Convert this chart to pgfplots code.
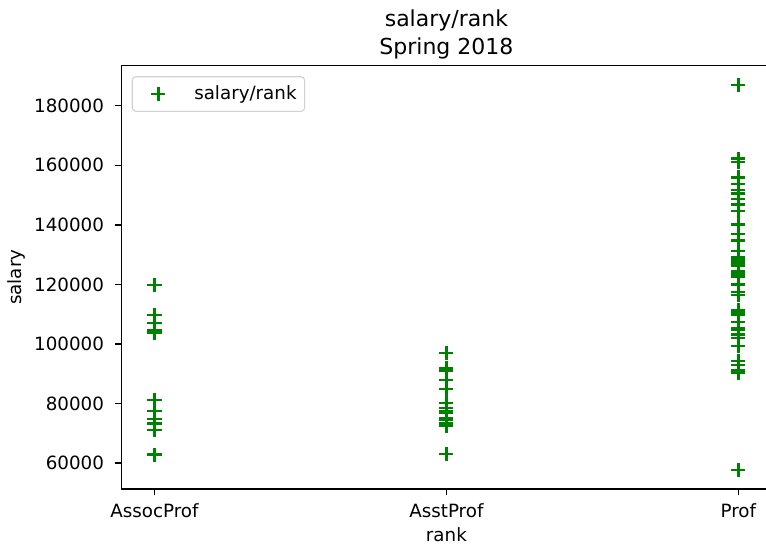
\documentclass[border=0pt]{standalone}
\usepackage{fontspec}
\setmainfont{DejaVu Sans}
\usepackage{pgfplots}
\usepackage{pgfplotstable}
\pgfplotsset{compat=1.18}
\definecolor{mplgreen}{HTML}{008000}
\pgfplotstableread{
x y
0 81285
0 107008
0 119800
0 74830
0 103613
0 62884
0 77500
0 103994
0 103750
0 109650
0 73300
0 71065
0 104542
1 88000
1 75044
1 92000
1 92000
1 73000
1 85000
1 91300
1 91000
1 80225
1 77000
1 74692
1 97032
1 73500
1 72500
1 72500
1 92000
1 63100
1 77500
1 78500
2 186960
2 93000
2 110515
2 131205
2 104800
2 122400
2 126300
2 94350
2 57800
2 128250
2 134778
2 162200
2 153750
2 150480
2 107300
2 150500
2 103106
2 91100
2 99418
2 148750
2 155865
2 123683
2 155750
2 103275
2 120000
2 126933
2 146856
2 102000
2 129000
2 137000
2 151768
2 140096
2 111512
2 122960
2 127512
2 105000
2 144651
2 91000
2 117555
2 90450
2 116450
2 161101
2 105450
2 124312
2 109954
2 109646
}\salaries
\begin{document}
\begin{tikzpicture}[font=\fontsize{13.7}{16.4}\selectfont]
\useasboundingbox (0,0) rectangle (574.5pt,412.5pt);
\clip (0,0) rectangle (574.5pt,412.5pt);
\begin{axis}[
  at={(91.3pt,45.75pt)}, anchor=south west,
  scale only axis, width=487pt, height=317.5pt,
  xmin=-0.112, xmax=2.112, ymin=51342, ymax=193418,
  xtick={0,1,2}, xticklabels={AssocProf,AsstProf,Prof},
  ytick={60000,80000,100000,120000,140000,160000,180000},
  yticklabels={60000,80000,100000,120000,140000,160000,180000},
  yticklabel style={xshift=-5pt},
  xticklabel style={yshift=-3pt},
  scaled y ticks=false,
  tick align=outside, xtick pos=left, ytick pos=left,
  major tick length=4.8pt,
  tick style={black, line width=1.1pt},
  axis line style={black, line width=1.1pt},
  xlabel={rank}, ylabel={salary},
  title={salary/rank\\Spring 2018},
  title style={align=center, font=\fontsize{16.5}{21.2}\selectfont, yshift=-4.75pt},
  legend style={at={(0.0154,0.975)}, anchor=north west, draw=black!18,
    rounded corners=2.5pt, fill=white, fill opacity=0.8, text opacity=1,
    inner xsep=4pt, inner ysep=5pt, line width=0.8pt},
  legend cell align=left,
  legend image code/.code={\path (0pt,0pt) (39.7pt,0pt);\draw[mark repeat=2,mark phase=2] plot coordinates {(0pt,0pt)(15.2pt,0pt)(39.7pt,0pt)};},
]
\addplot[only marks, mark=+, mark size=5.3pt, mark options={line width=1.8pt}, color=mplgreen] table[x=x,y=y] {\salaries};
\addlegendentry{salary/rank}
\end{axis}
\end{tikzpicture}
\end{document}
